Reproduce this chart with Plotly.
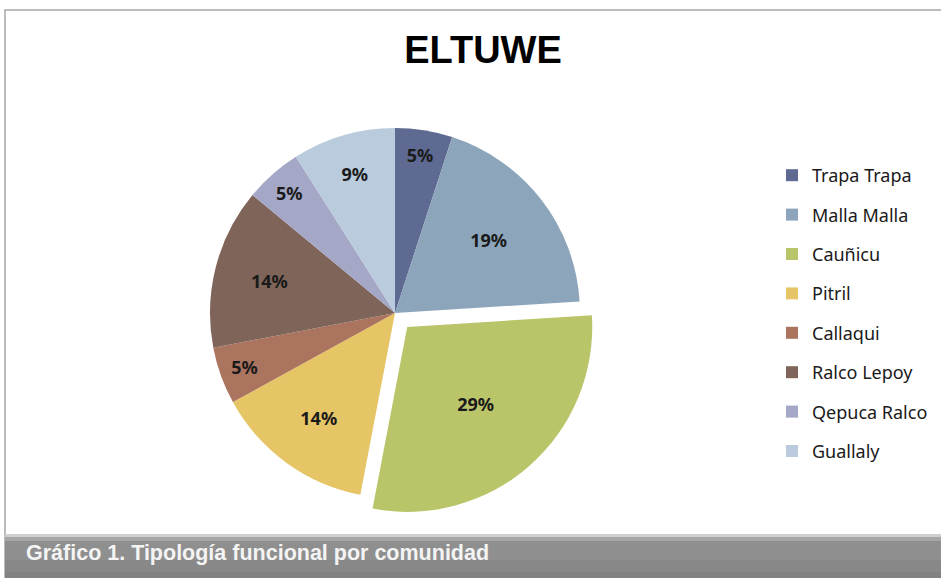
import plotly.graph_objects as go

labels = ["Trapa Trapa", "Malla Malla", "Cauñicu", "Pitril", "Callaqui",
          "Ralco Lepoy", "Qepuca Ralco", "Guallaly"]
values = [5, 19, 29, 14, 5, 14, 5, 9]
colors = ["#5e6a92", "#8ca5bb", "#bac56a", "#e5c566", "#ab745f",
          "#7f6459", "#a4a8c6", "#b9cbdc"]
pulls = [0, 0, 0.1, 0, 0, 0, 0, 0]
title = "ELTUWE"
caption = "Gráfico 1. Tipología funcional por comunidad"

W, H = 941, 578

fig = go.Figure()
fig.add_trace(go.Pie(
    labels=labels, values=values, sort=False, direction="clockwise",
    rotation=0, pull=pulls,
    marker=dict(colors=colors, line=dict(width=0)),
    texttemplate="%{percent:.0%}", textposition="inside",
    insidetextorientation="horizontal",
    textfont=dict(family="Noto Sans", size=18, color="#1a1a1a", weight="bold"),
    domain=dict(x=[191.5 / W, 598.5 / W], y=[(H - 516.5) / H, (H - 109.5) / H]),
    showlegend=False, hoverinfo="label+percent",
))
for i, (lab, col) in enumerate(zip(labels, colors)):
    fig.add_trace(go.Scatter(
        x=[None], y=[None], mode="markers", name=lab, legendgroup=lab,
        marker=dict(symbol="square", size=11, color=col), showlegend=True,
    ))

shapes = [
    # outer frame
    dict(type="rect", xref="paper", yref="paper", x0=5 / W, x1=1.01,
         y0=-0.01, y1=(H - 10) / H, line=dict(color="#a6a6a6", width=1.5),
         fillcolor="rgba(0,0,0,0)", layer="below"),
]
# caption band (stacked rects approximate the gradient)
band = [(534, 537, "#d0d0d0"), (537, 541, "#a6a6a6"), (541, 560, "#8f8f8f"),
        (560, 572, "#888888"), (572, 579, "#828282")]
for y0, y1, c in band:
    shapes.append(dict(type="rect", xref="paper", yref="paper", x0=5 / W, x1=1.01,
                       y0=(H - y1) / H, y1=(H - y0) / H, line=dict(width=0),
                       fillcolor=c, layer="above"))

fig.update_layout(
    width=W, height=H, margin=dict(l=0, r=0, t=0, b=0),
    paper_bgcolor="white", plot_bgcolor="white",
    xaxis=dict(visible=False), yaxis=dict(visible=False),
    title=dict(text=title, x=483 / W, xanchor="center", y=(H - 50) / H, yanchor="middle",
               font=dict(family="Liberation Sans", size=38, color="black", weight="bold")),
    legend=dict(x=772 / W, xanchor="left", y=(H - 157) / H, yanchor="top",
                font=dict(family="Noto Sans", size=18, color="#1a1a1a"),
                tracegroupgap=13, itemsizing="constant", bgcolor="rgba(0,0,0,0)"),
    shapes=shapes,
    annotations=[dict(text=caption, xref="paper", yref="paper", x=24 / W, xanchor="left",
                      y=(H - 553) / H, yanchor="middle", showarrow=False,
                      font=dict(family="Liberation Sans", size=21.5, color="#f4f4f4",
                                weight="bold"))],
)
fig.write_html("out.html")
